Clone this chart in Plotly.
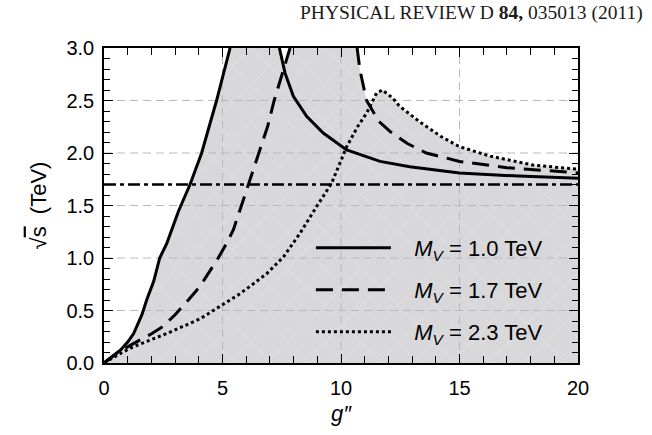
import plotly.graph_objects as go

# ---- data (g'' , sqrt(s) in TeV) ----
# M_V = 1.0 TeV (solid): lower branch and upper branch (curve leaves the frame above 3 TeV)
g_m10_lo = [0, 0.4, 0.7, 1.0, 1.25, 1.6, 1.8, 2.1, 2.35, 2.65, 3.15, 3.63, 4.12, 4.75, 5.32]
s_m10_lo = [0, 0.07, 0.125, 0.2, 0.28, 0.46, 0.60, 0.78, 1.0, 1.14, 1.45, 1.7, 2.0, 2.5, 3.0]
g_m10_hi = [7.40, 7.64, 7.99, 8.55, 9.25, 10.24, 11.65, 12.9, 15.0, 17.5, 20.0]
s_m10_hi = [3.0, 2.76, 2.54, 2.35, 2.19, 2.03, 1.92, 1.87, 1.81, 1.78, 1.76]

# M_V = 1.7 TeV (dashed)
g_m17_lo = [0, 0.53, 1.2, 1.94, 2.5, 3.0, 3.56, 4.05, 4.45, 4.82, 5.2, 5.46, 5.8, 6.09, 6.51, 6.9, 7.18, 7.55, 7.85]
s_m17_lo = [0, 0.09, 0.18, 0.27, 0.35, 0.46, 0.6, 0.73, 0.87, 1.0, 1.15, 1.27, 1.5, 1.7, 2.0, 2.25, 2.5, 2.78, 3.0]
g_m17_hi = [10.68, 10.8, 11.08, 11.6, 12.1, 12.8, 13.6, 15.0, 17.0, 20.0]
s_m17_hi = [3.0, 2.79, 2.5, 2.3, 2.2, 2.09, 2.0, 1.92, 1.86, 1.81]

# M_V = 2.3 TeV (dotted)
g_m23 = [0, 0.6, 1.24, 2.64, 4.05, 5.0, 5.67, 6.16, 6.86, 7.57, 8.27, 8.97, 9.6, 10.24,
         10.7, 11.08, 11.5, 11.75, 12.2, 12.45, 13.3, 14.2, 15.0, 16.3, 18.1, 20.0]
s_m23 = [0, 0.08, 0.155, 0.28, 0.42, 0.55, 0.65, 0.73, 0.85, 1.01, 1.235, 1.49, 1.71, 2.06,
         2.25, 2.38, 2.57, 2.60, 2.52, 2.45, 2.30, 2.16, 2.06, 1.97, 1.885, 1.845]

threshold = 1.7  # dash-dotted horizontal line (TeV)
labels = ["M_V = 1.0 TeV", "M_V = 1.7 TeV", "M_V = 2.3 TeV"]
x_ticks = [0, 5, 10, 15, 20]
y_ticks = [0.0, 0.5, 1.0, 1.5, 2.0, 2.5, 3.0]
x_range = [0, 20]
y_range = [0, 3]

FONT = "Liberation Sans, Arial, sans-serif"
GRAY = "#d8d8da"

fig = go.Figure()

# shaded region: union of the areas under each curve
fills = [
    (g_m10_lo + g_m10_hi, s_m10_lo + s_m10_hi),
    (g_m17_lo + g_m17_hi, s_m17_lo + s_m17_hi),
    (g_m23, s_m23),
]
for fx, fy in fills:
    fig.add_trace(go.Scatter(
        x=fx, y=fy, mode="lines", line=dict(width=0, color=GRAY),
        fill="tozeroy", fillcolor=GRAY,
        fillpattern=dict(shape="x", bgcolor=GRAY, fgcolor="#e2e2e4",
                         size=26, solidity=0.05, fillmode="replace"),
        showlegend=False, hoverinfo="skip"))

# dashed grid drawn above the shading, below the curves
grid_style = dict(color="#b9b9b9", width=1, dash="8px,5px")
for v in x_ticks[1:-1]:
    fig.add_trace(go.Scatter(x=[v, v], y=y_range, mode="lines", line=grid_style,
                             showlegend=False, hoverinfo="skip"))
for v in y_ticks[1:-1]:
    fig.add_trace(go.Scatter(x=x_range, y=[v, v], mode="lines", line=grid_style,
                             showlegend=False, hoverinfo="skip"))

# threshold line
fig.add_trace(go.Scatter(x=x_range, y=[threshold, threshold], mode="lines",
                         line=dict(color="black", width=2.6, dash="12px,4px,4px,4px"),
                         showlegend=False, hoverinfo="skip"))

def legend_text(s):
    m, rest = s.split(" = ")
    return "\u00a0\u00a0\u00a0<i>M</i><sub><i>V</i></sub> = " + rest

curves = [
    (g_m10_lo + [None] + g_m10_hi, s_m10_lo + [None] + s_m10_hi, "solid", "legend"),
    (g_m17_lo + [None] + g_m17_hi, s_m17_lo + [None] + s_m17_hi, "17px,9px", "legend2"),
    (g_m23, s_m23, "3px,3px", "legend3"),
]
for (cx, cy, dash, lg), lab in zip(curves, labels):
    fig.add_trace(go.Scatter(x=cx, y=cy, mode="lines", connectgaps=False,
                             line=dict(color="black", width=3, dash=dash),
                             name=legend_text(lab), legend=lg))

# empty trace on the mirrored (top/right) axes so their ticks are drawn
fig.add_trace(go.Scatter(x=[None], y=[None], xaxis="x2", yaxis="y2",
                         showlegend=False, hoverinfo="skip"))

leg_common = dict(bgcolor="rgba(0,0,0,0)", borderwidth=0, itemwidth=75,
                  font=dict(family=FONT, size=22, color="black"),
                  xanchor="left", yanchor="middle", x=0.4365)

TW = 1.3
axis_common = dict(showgrid=False, zeroline=False, showline=True, linecolor="black",
                   linewidth=1.6, mirror=True, ticks="inside", tickcolor="black",
                   tickwidth=TW, layer="above traces",
                   tickfont=dict(family=FONT, size=20, color="black"))

mirror_common = dict(showgrid=False, zeroline=False, showline=False, ticks="inside",
                     tickcolor="black", tickwidth=TW, showticklabels=False,
                     layer="above traces")

x_minor = dict(dtick=1, ticks="inside", ticklen=7, tickcolor="black", tickwidth=TW)
y_minor = dict(dtick=0.1, ticks="inside", ticklen=6, tickcolor="black", tickwidth=TW)

fig.update_layout(
    width=652, height=435,
    margin=dict(l=104, r=74, t=48, b=72),
    paper_bgcolor="white", plot_bgcolor="white",
    font=dict(family=FONT, color="black"),
    legend=dict(leg_common, y=(363 - 248) / 315),
    legend2=dict(leg_common, y=(363 - 290) / 315),
    legend3=dict(leg_common, y=(363 - 332) / 315),
    xaxis=dict(axis_common, range=x_range, tickvals=x_ticks, ticklen=9,
               ticklabelstandoff=6, minor=x_minor,
               title=dict(text="<i>g\u2033</i>", font=dict(family=FONT, size=22), standoff=8)),
    yaxis=dict(axis_common, range=y_range, tickvals=y_ticks, ticktext=[f"{v:.1f}" for v in y_ticks],
               ticklen=9, ticklabelstandoff=4, minor=y_minor,
               title=dict(text="\u221a<span style='text-decoration:overline'>s</span>\u00a0 (TeV)",
                          font=dict(family=FONT, size=22), standoff=14)),
    xaxis2=dict(mirror_common, overlaying="x", side="top", anchor="y", range=x_range,
                tickvals=x_ticks, ticklen=9, minor=x_minor),
    yaxis2=dict(mirror_common, overlaying="y", side="right", anchor="x", range=y_range,
                tickvals=y_ticks, ticklen=9, minor=y_minor),
    annotations=[dict(text="PHYSICAL REVIEW D <b>84,</b> 035013 (2011)",
                      xref="paper", yref="paper", x=(645 - 104) / 474, y=(363 - 13) / 315,
                      xanchor="right", yanchor="middle", showarrow=False,
                      font=dict(family="Liberation Serif, Times New Roman, serif", size=19.5, color="#1a1a1a"))],
)

fig.write_html("out.html")
